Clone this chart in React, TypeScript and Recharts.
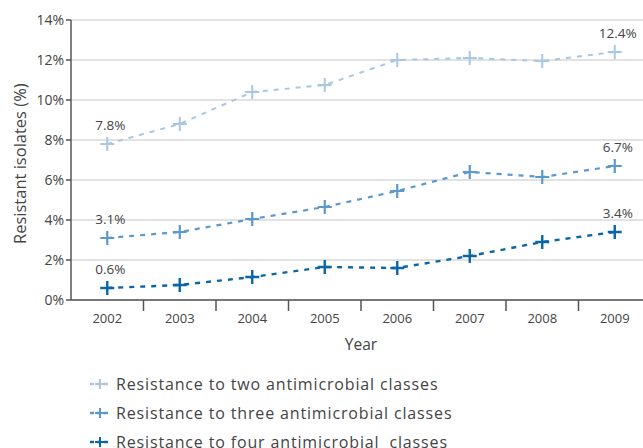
import {
  LineChart,
  Line,
  XAxis,
  YAxis,
  CartesianGrid,
  LabelList,
} from "recharts";

const years = ["2002", "2003", "2004", "2005", "2006", "2007", "2008", "2009"];
const twoClasses = [7.8, 8.8, 10.4, 10.75, 12.0, 12.1, 11.95, 12.4];
const threeClasses = [3.1, 3.4, 4.05, 4.65, 5.45, 6.4, 6.15, 6.7];
const fourClasses = [0.6, 0.75, 1.15, 1.65, 1.6, 2.2, 2.9, 3.4];
const yTicks = [0, 2, 4, 6, 8, 10, 12, 14];

const FONT = "'Open Sans', sans-serif";
const TEXT = "#444";
const AXIS = "#555";

const seriesDefs = [
  { key: "two", name: "Resistance to two antimicrobial classes", color: "#a9c6e3", width: 2 },
  { key: "three", name: "Resistance to three antimicrobial classes", color: "#5b98cc", width: 2.2 },
  { key: "four", name: "Resistance to four antimicrobial  classes", color: "#0a67a6", width: 2.4 },
];

const data = years.map((year, i) => ({
  year,
  two: twoClasses[i],
  three: threeClasses[i],
  four: fourClasses[i],
}));

function plusDot(color: string, width: number) {
  return (props: any) => {
    const { cx, cy, index } = props;
    if (cx == null || cy == null) return <g key={index} />;
    return (
      <path
        key={index}
        d={`M${cx - 7},${cy}H${cx + 7}M${cx},${cy - 7}V${cy + 7}`}
        stroke={color}
        strokeWidth={width}
        fill="none"
      />
    );
  };
}

function endLabel(props: any) {
  const { x, y, value, index } = props;
  if (index !== 0 && index !== years.length - 1) return null;
  return (
    <text
      x={x + 3}
      y={y - 14}
      textAnchor="middle"
      fontSize={13.5}
      fontFamily={FONT}
      fill={TEXT}
    >
      {`${value.toFixed(1)}%`}
    </text>
  );
}

function YearTick(props: any) {
  const { x, y, payload } = props;
  const half = payload?.offset ?? 0;
  return (
    <g>
      {half > 0 && (
        <line x1={x + half} x2={x + half} y1={y} y2={y + 11} stroke={AXIS} strokeWidth={1.5} />
      )}
      <text x={x} y={y + 23} textAnchor="middle" fontSize={13} fontFamily={FONT} fill={TEXT}>
        {payload.value}
      </text>
    </g>
  );
}

function LegendMark({ color }: { color: string }) {
  return (
    <svg width={22} height={14} style={{ marginRight: 5 }}>
      <line x1={1} x2={21} y1={7} y2={7} stroke={color} strokeWidth={2.5} strokeDasharray="4 3" />
      <path d="M6,7H16M11,2V12" stroke={color} strokeWidth={2} />
    </svg>
  );
}

export default function App() {
  return (
    <div
      style={{
        position: "absolute",
        left: 0,
        top: 0,
        width: 643,
        height: 448,
        overflow: "hidden",
        background: "#fff",
        fontFamily: FONT,
      }}
    >
      <LineChart
        width={660}
        height={448}
        data={data}
        margin={{ top: 20, right: 9, left: 0, bottom: 98 }}
      >
        <CartesianGrid vertical={false} stroke="#d8d8d8" strokeWidth={1.5} />
        <XAxis
          dataKey="year"
          scale="band"
          tickLine={false}
          tickSize={0}
          tickMargin={0}
          height={50}
          stroke={AXIS}
          strokeWidth={1.5}
          tick={<YearTick />}
          label={{
            value: "Year",
            position: "insideBottom",
            offset: 0,
            style: { fontSize: 15.5, fontFamily: FONT, fill: TEXT },
          }}
        />
        <YAxis
          width={71}
          domain={[0, 14]}
          ticks={yTicks}
          interval={0}
          stroke={AXIS}
          strokeWidth={1.5}
          tickSize={5}
          tickFormatter={(v: number) => `${v}%`}
          tick={{ fontSize: 14, fontFamily: FONT, fill: TEXT }}
          label={{
            value: "Resistant isolates (%)",
            angle: -90,
            position: "insideLeft",
            offset: 20,
            dy: 84,
            style: { fontSize: 16.5, fontFamily: FONT, fill: TEXT },
          }}
        />
        {seriesDefs.map((s) => (
          <Line
            key={s.key}
            dataKey={s.key}
            name={s.name}
            stroke={s.color}
            strokeWidth={s.width}
            strokeDasharray="5 6"
            dot={plusDot(s.color, s.width)}
            activeDot={false}
            isAnimationActive={false}
          >
            <LabelList dataKey={s.key} content={endLabel} />
          </Line>
        ))}
      </LineChart>
      <div style={{ position: "absolute", left: 89, top: 369 }}>
        {seriesDefs.map((s) => (
          <div
            key={s.key}
            style={{
              display: "flex",
              alignItems: "center",
              height: 29,
              fontSize: 16,
              letterSpacing: 0.85,
              color: TEXT,
              whiteSpace: "pre",
            }}
          >
            <LegendMark color={s.color} />
            {s.name}
          </div>
        ))}
      </div>
    </div>
  );
}
